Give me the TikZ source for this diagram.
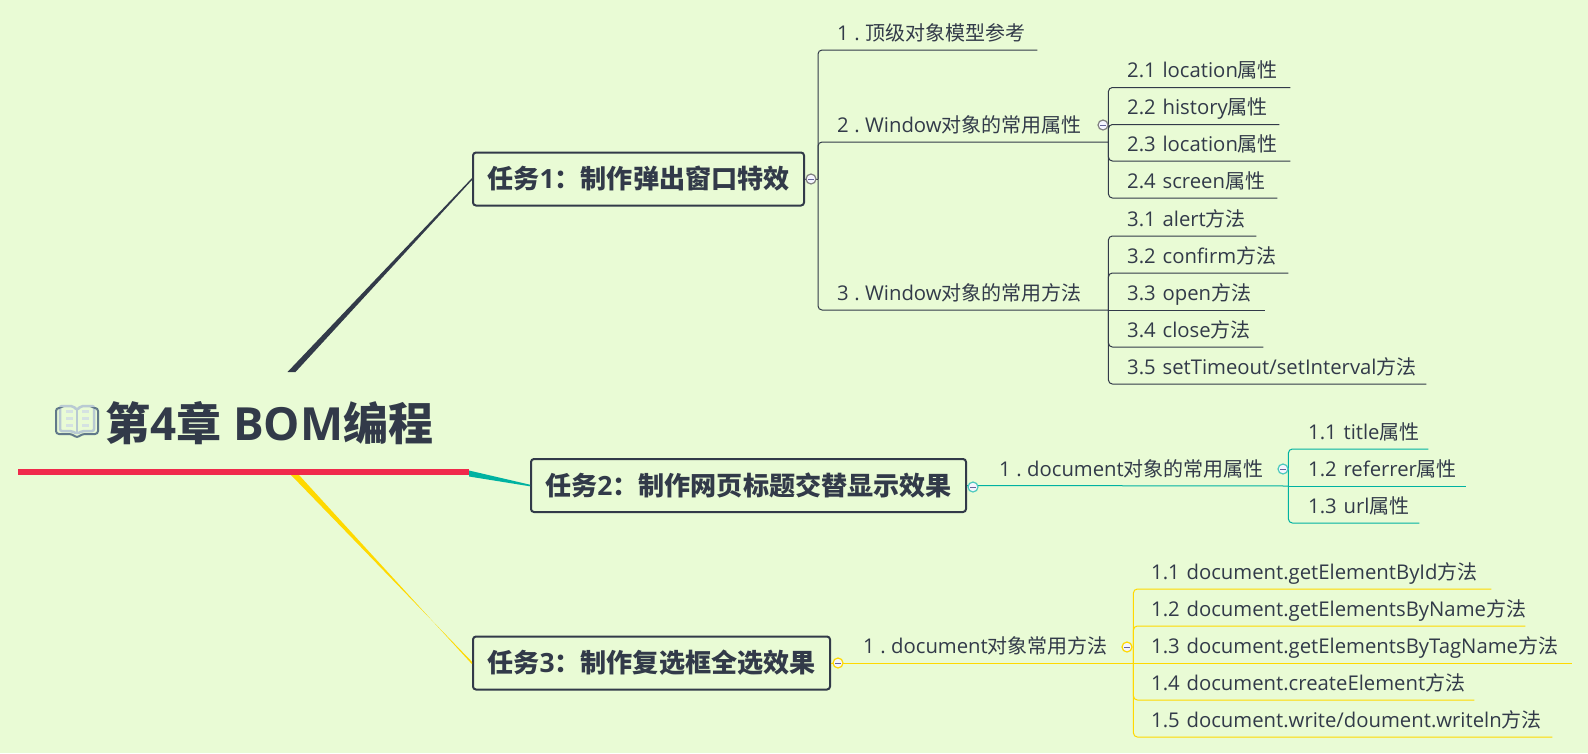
\documentclass[tikz,border=0pt]{standalone}
\usepackage{fontspec}
\setmainfont[Scale=1.015]{Open Sans}
\newfontfamily\cjk{Noto Sans CJK SC}
\usetikzlibrary{calc}
\definecolor{bgcol}{HTML}{E9FBD5}
\definecolor{inkcol}{HTML}{323A49}
\definecolor{redcol}{HTML}{F0294B}
\definecolor{tealcol}{HTML}{00B2A1}
\definecolor{yellowcol}{HTML}{FFD900}
\definecolor{bookedge}{HTML}{61798A}
\definecolor{bookpage}{HTML}{B9CAD3}
\definecolor{bookline}{HTML}{D5E2E2}
\newcommand{\sep}{\kern-1.3pt\ .\kern-1.3pt\ }
\tikzset{
  task/.style={draw=inkcol,line width=2pt,rounded corners=3pt,inner sep=0,align=center,
    text=inkcol,minimum height=53pt,font=\fontsize{26.1}{30}\selectfont\bfseries},
  item/.style={anchor=south west,inner sep=0,text height=15pt,text depth=9.5pt,
    text=inkcol,text width=#1,align=left,font=\fontsize{20}{24}\selectfont},
  link/.style={draw=#1,line width=1pt,rounded corners=4pt},
  fold/.style={circle,draw=#1,line width=1.2pt,fill=white!80!blue!20,inner sep=0,minimum size=10pt,
    path picture={\draw[gray!80!blue,line width=1pt]
      ([xshift=2pt]path picture bounding box.west) -- ([xshift=-2pt]path picture bounding box.east);}},
}
\begin{document}
\begin{tikzpicture}[x=1pt,y=-1pt]
  \fill[bgcol] (0,0) rectangle (1588,753);
  \useasboundingbox (0,0) rectangle (1588,753);

  % root
  \node[anchor=west,inner sep=0,text=inkcol,font=\fontsize{45}{52}\selectfont\bfseries]
    (root) at (105,423) {{\cjk 第}4{\cjk 章} BOM{\cjk 编程}};
  \coordinate (rootL) at (18,472);
  \coordinate (rootR) at (469,472);
  \coordinate (rootA) at (291.5,372);
  \coordinate (rootC) at (295,475);
  \coordinate (rootB) at (469,473.5);

  % book icon
  \draw[bookpage,line width=2.5pt,rounded corners=2pt]
    (77,410) -- (73,406) -- (60,406) -- (60,431) -- (72,431) -- (77,434)
    -- (82,431) -- (94,431) -- (94,406) -- (81,406) -- cycle;
  \draw[bookpage,line width=2pt] (77,410) -- (77,433);
  \foreach \y in {411,418,425} {
    \draw[bookline,line width=3pt] (66,\y) -- (73,\y);
    \draw[bookline,line width=3pt] (82,\y) -- (89,\y);
  }
  \draw[bookedge,line width=2pt,rounded corners=3pt]
    (58,408) -- (56,408) -- (56,434) -- (72,434) -- (77,438) -- (82,434) -- (98,434) -- (98,408) -- (96,408);

  % tasks
  \node[task,minimum width=331pt] (t1) at (638.5,179)
    {{\cjk 任务}1{\cjk ：制作弹出窗口特效}};
  \node[task,minimum width=435pt] (t2) at (748.5,485.5)
    {{\cjk 任务}2{\cjk ：制作网页标题交替显示效果}};
  \node[task,minimum width=357pt] (t3) at (651.5,663)
    {{\cjk 任务}3{\cjk ：制作复选框全选效果}};

  % tapered branches
  \fill[inkcol] ($(rootA)+(-4,0)$) -- ($(rootA)+(4,0)$) -- ($(t1.west)+(0,1)$) -- ($(t1.west)+(0,-1)$) -- cycle;
  \fill[tealcol] ($(rootB)+(0,-3)$) -- ($(rootB)+(0,3)$) -- ($(t2.west)+(0,.8)$) -- ($(t2.west)+(0,-.8)$) -- cycle;
  \fill[yellowcol] ($(rootC)+(-4,0)$) -- ($(rootC)+(4,0)$) -- ($(t3.west)+(0,1.2)$) -- ($(t3.west)+(0,-1.2)$) -- cycle;
  \draw[redcol,line width=6pt] (rootL) -- (rootR);

  % first branch
  \coordinate (hubA) at (818,179);
  \node[item=200pt] (a1) at (837,50) {1\sep{\cjk 顶级对象模型参考}};
  \node[item=271pt] (a2) at (837,142) {2\sep Window{\cjk 对象的常用属性}};
  \node[item=271pt] (a3) at (837,310) {3\sep Window{\cjk 对象的常用方法}};
  \draw[link=inkcol] (t1.east) -- (hubA);
  \draw[link=inkcol] (hubA) |- (a1.south east);
  \draw[link=inkcol] (hubA) |- (a2.south east);
  \draw[link=inkcol] (hubA) |- (a3.south east);

  \node[item=163pt] (a21) at (1127,87.5) {2.1 location{\cjk 属性}};
  \node[item=152pt] (a22) at (1127,124.5) {2.2 history{\cjk 属性}};
  \node[item=163pt] (a23) at (1127,161) {2.3 location{\cjk 属性}};
  \node[item=150pt] (a24) at (1127,198) {2.4 screen{\cjk 属性}};
  \draw[link=inkcol] (a2.south east) |- (a21.south east);
  \draw[link=inkcol] (a2.south east) |- (a22.south east);
  \draw[link=inkcol] (a2.south east) |- (a23.south east);
  \draw[link=inkcol] (a2.south east) |- (a24.south east);

  \node[item=129pt] (a31) at (1127,236) {3.1 alert{\cjk 方法}};
  \node[item=161pt] (a32) at (1127,273) {3.2 confirm{\cjk 方法}};
  \node[item=138pt] (a33) at (1127,310) {3.3 open{\cjk 方法}};
  \node[item=136pt] (a34) at (1127,347) {3.4 close{\cjk 方法}};
  \node[item=299pt] (a35) at (1127,384) {3.5 setTimeout/setInterval{\cjk 方法}};
  \draw[link=inkcol] (a3.south east) |- (a31.south east);
  \draw[link=inkcol] (a3.south east) |- (a32.south east);
  \draw[link=inkcol] (a3.south east) -- (a33.south east);
  \draw[link=inkcol] (a3.south east) |- (a34.south east);
  \draw[link=inkcol] (a3.south east) |- (a35.south east);

  % second branch
  \node[item=289pt] (b1) at (999,486) {1\sep document{\cjk 对象的常用属性}};
  \draw[link=tealcol] (t2.east) -- (b1.south east);
  \node[item=120pt] (b11) at (1308,449) {1.1 title{\cjk 属性}};
  \node[item=158pt] (b12) at (1308,486) {1.2 referrer{\cjk 属性}};
  \node[item=111pt] (b13) at (1308,523) {1.3 url{\cjk 属性}};
  \draw[link=tealcol] (b1.south east) |- (b11.south east);
  \draw[link=tealcol] (b1.south east) -- (b12.south east);
  \draw[link=tealcol] (b1.south east) |- (b13.south east);

  % third branch
  \node[item=270pt] (c1) at (863,663) {1\sep document{\cjk 对象常用方法}};
  \draw[link=yellowcol] (t3.east) -- (c1.south east);
  \node[item=340pt] (c11) at (1151,589) {1.1 document.getElementById{\cjk 方法}};
  \node[item=374pt] (c12) at (1151,626) {\mbox{1.2 document.getElementsByName{\cjk 方法}}};
  \node[item=421pt] (c13) at (1151,663) {1.3 document.getElementsByTagName{\cjk 方法}};
  \node[item=323pt] (c14) at (1151,700) {1.4 document.createElement{\cjk 方法}};
  \node[item=401pt] (c15) at (1151,737) {1.5 document.write/doument.writeln{\cjk 方法}};
  \draw[link=yellowcol] (c1.south east) |- (c11.south east);
  \draw[link=yellowcol] (c1.south east) |- (c12.south east);
  \draw[link=yellowcol] (c1.south east) -- (c13.south east);
  \draw[link=yellowcol] (c1.south east) |- (c14.south east);
  \draw[link=yellowcol] (c1.south east) |- (c15.south east);

  % fold marks
  \node[fold=gray] (fa) at (811,179) {};
  \node[fold=gray] (fa2) at (1103,125) {};
  \node[fold=tealcol!70] (fb) at (973,487) {};
  \node[fold=tealcol!70] (fb1) at (1283,469) {};
  \node[fold=yellowcol] (fc) at (838,663) {};
  \node[fold=yellowcol] (fc1) at (1127,647) {};
\end{tikzpicture}
\end{document}
